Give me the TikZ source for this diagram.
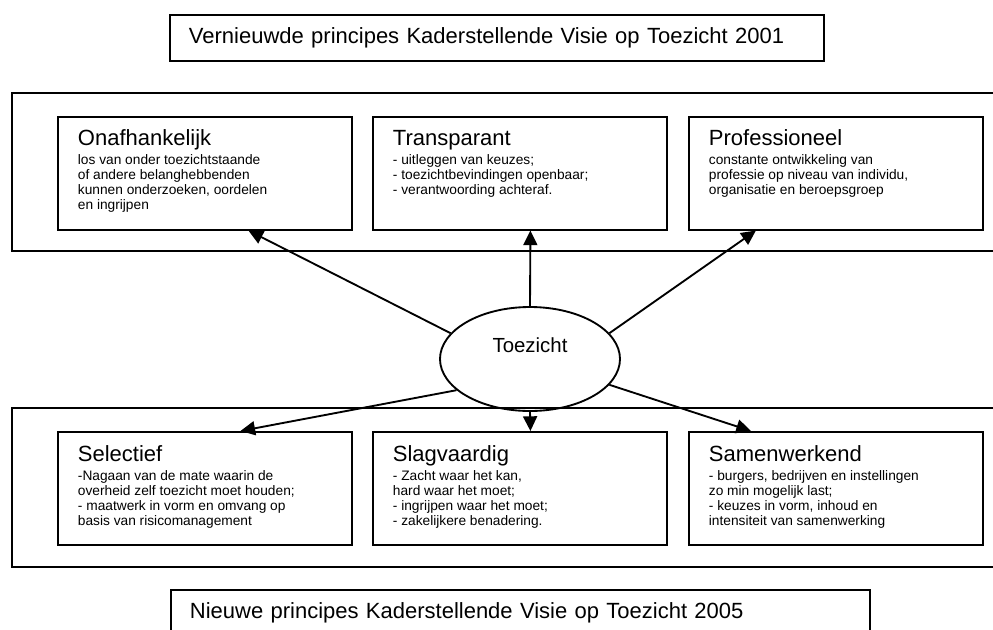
\documentclass[tikz,border=0pt]{standalone}
\usepackage{fontspec}
\setmainfont{Liberation Sans}
\usetikzlibrary{shapes.geometric,arrows.meta,calc}
\newcommand\headfont{\fontsize{16.5}{19}\selectfont}
\newcommand\bodyfont{\fontsize{10.3}{11.25}\selectfont}

\begin{document}
\begin{tikzpicture}[x=0.75pt, y=-0.75pt, line width=1.4pt,
  titlebox/.style={draw, anchor=north west, minimum height=34.5pt, inner xsep=14.25pt, align=left, font=\headfont},
  pbox/.style={draw, anchor=north west, minimum width=220.5pt, minimum height=84.5pt, inner sep=0pt},
  head/.style={anchor=base west, inner sep=0pt, font=\headfont},
  body/.style={anchor=north west, inner sep=0pt, align=left, font=\bodyfont},
  arr/.style={-{Triangle[length=11pt,width=10.5pt]}}]
\useasboundingbox (0,0) rectangle (993,629);
\clip (0,0) rectangle (993,629);

\node[titlebox, text width=462pt] (kvt1) at (169,14) {Vernieuwde principes Kaderstellende Visie op Toezicht 2001};
\node[titlebox, text width=495.75pt] (kvt2) at (170,589) {Nieuwe principes Kaderstellende Visie op Toezicht 2005};

\draw (12,93) rectangle (1005,251);
\draw (12,408) rectangle (1005,567);

\node[pbox] (onaf) at (57,116) {};
\node[pbox] (trans) at (372,116) {};
\node[pbox] (prof) at (688,116) {};
\node[pbox] (sel) at (57,431) {};
\node[pbox] (slag) at (372,431) {};
\node[pbox] (samen) at (688,431) {};

\node[head] (onafH) at ($(onaf.north west)+(20,29)$) {Onafhankelijk};
\node[body] (onafB) at ($(onaf.north west)+(20,37.5)$) {\strut los van onder toezichtstaande\\of andere belanghebbenden\\kunnen onderzoeken, oordelen\\en ingrijpen};
\node[head] (transH) at ($(trans.north west)+(20,29)$) {Transparant};
\node[body] (transB) at ($(trans.north west)+(20,37.5)$) {\strut - uitleggen van keuzes;\\- toezichtbevindingen openbaar;\\- verantwoording achteraf.};
\node[head] (profH) at ($(prof.north west)+(20,29)$) {Professioneel};
\node[body] (profB) at ($(prof.north west)+(20,37.5)$) {\strut constante ontwikkeling van\\professie op niveau van individu,\\organisatie en beroepsgroep};

\node[head] (selH) at ($(sel.north west)+(20,30)$) {Selectief};
\node[body] (selB) at ($(sel.north west)+(20,38.5)$) {\strut -Nagaan van de mate waarin de\\overheid zelf toezicht moet houden;\\- maatwerk in vorm en omvang op\\basis van risicomanagement};
\node[head] (slagH) at ($(slag.north west)+(20,30)$) {Slagvaardig};
\node[body] (slagB) at ($(slag.north west)+(20,38.5)$) {\strut - Zacht waar het kan,\\hard waar het moet;\\- ingrijpen waar het moet;\\- zakelijkere benadering.};
\node[head] (samenH) at ($(samen.north west)+(20,30)$) {Samenwerkend};
\node[body] (samenB) at ($(samen.north west)+(20,38.5)$) {\strut - burgers, bedrijven en instellingen\\zo min mogelijk last;\\- keuzes in vorm, inhoud en\\intensiteit van samenwerking};

\node[draw, ellipse, minimum width=135pt, minimum height=78pt] (toe) at (530,359) {};
\node[anchor=base, inner sep=0pt, font=\fontsize{15.3}{18}\selectfont] (toeT) at ($(toe.center)+(0,-7)$) {Toezicht};

\draw[arr] (toe.162) -- ($(onaf.south)+(43.5,0)$);
\draw[arr] (toe.north) -- ($(trans.south)+(10.5,0)$);
\draw[arr] (toe.18) -- ($(prof.south)+(-80,0)$);
\draw[arr] (toe.203) -- ($(sel.north)+(35.5,0)$);
\draw[arr] (toe.south) -- ($(slag.north)+(10.5,0)$);
\draw[arr] (toe.342) -- ($(samen.north)+(-85,0)$);
\end{tikzpicture}
\end{document}
